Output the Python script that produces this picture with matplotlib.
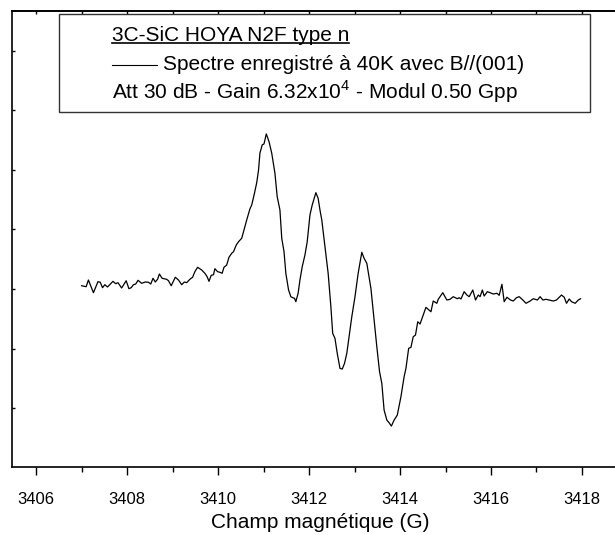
import numpy as np
import matplotlib
matplotlib.use('Agg')
import matplotlib.pyplot as plt
from matplotlib.patches import Rectangle

plt.rcParams['font.family'] = ['Liberation Sans', 'DejaVu Sans']
plt.rcParams['mathtext.fontset'] = 'custom'
plt.rcParams['mathtext.rm'] = 'Liberation Sans'

# champ (G) et signal RPE (u.a.)
field_G = [3407.00, 3407.10, 3407.15, 3407.26, 3407.36, 3407.41, 3407.46, 3407.51, 3407.57, 3407.69,
           3407.75, 3407.80, 3407.88, 3407.98, 3408.04, 3408.09, 3408.14, 3408.19, 3408.24, 3408.32,
           3408.40, 3408.47, 3408.52, 3408.57, 3408.62, 3408.67, 3408.71, 3408.77, 3408.87, 3408.91,
           3408.97, 3409.06, 3409.13, 3409.20, 3409.26, 3409.31, 3409.38, 3409.44, 3409.49, 3409.55,
           3409.64, 3409.71, 3409.76, 3409.80, 3409.85, 3409.90, 3409.93, 3409.99, 3410.04, 3410.09,
           3410.13, 3410.19, 3410.24, 3410.30, 3410.34, 3410.40, 3410.45, 3410.52, 3410.57, 3410.63,
           3410.70, 3410.74, 3410.80, 3410.85, 3410.89, 3410.92, 3410.97, 3411.01, 3411.06, 3411.12,
           3411.18, 3411.25, 3411.30, 3411.36, 3411.40, 3411.45, 3411.49, 3411.55, 3411.60, 3411.64,
           3411.68, 3411.71, 3411.76, 3411.80, 3411.85, 3411.91, 3411.96, 3412.02, 3412.07, 3412.15,
           3412.20, 3412.24, 3412.28, 3412.35, 3412.42, 3412.48, 3412.52, 3412.57, 3412.62, 3412.68,
           3412.73, 3412.78, 3412.83, 3412.89, 3412.94, 3413.01, 3413.08, 3413.16, 3413.21, 3413.27,
           3413.36, 3413.43, 3413.49, 3413.55, 3413.60, 3413.65, 3413.71, 3413.76, 3413.81, 3413.87,
           3413.94, 3414.02, 3414.09, 3414.13, 3414.19, 3414.24, 3414.29, 3414.34, 3414.39, 3414.44,
           3414.51, 3414.57, 3414.62, 3414.68, 3414.73, 3414.81, 3414.84, 3414.94, 3415.03, 3415.10,
           3415.17, 3415.26, 3415.30, 3415.34, 3415.41, 3415.47, 3415.52, 3415.60, 3415.66, 3415.72,
           3415.76, 3415.81, 3415.85, 3415.92, 3415.98, 3416.05, 3416.13, 3416.18, 3416.24, 3416.29,
           3416.35, 3416.43, 3416.49, 3416.56, 3416.62, 3416.70, 3416.77, 3416.86, 3416.93, 3417.02,
           3417.08, 3417.14, 3417.21, 3417.28, 3417.37, 3417.44, 3417.55, 3417.61, 3417.66, 3417.72,
           3417.77, 3417.85, 3417.92, 3417.97]
signal = [0.055, 0.039, 0.151, -0.062, 0.123, 0.113, 0.022, 0.072, 0.034, 0.129,
          0.089, 0.106, 0.017, 0.139, 0.005, 0.022, 0.072, 0.084, 0.146, 0.096,
          0.118, 0.113, 0.084, 0.180, 0.118, 0.163, 0.252, 0.180, 0.163, 0.139,
          0.055, 0.197, 0.151, 0.072, 0.118, 0.106, 0.163, 0.197, 0.291, 0.365,
          0.319, 0.264, 0.207, 0.129, 0.230, 0.240, 0.341, 0.291, 0.281, 0.264,
          0.365, 0.403, 0.533, 0.600, 0.627, 0.739, 0.795, 0.852, 0.992, 1.160,
          1.345, 1.412, 1.608, 1.787, 2.000, 2.281, 2.420, 2.437, 2.605, 2.476,
          2.281, 1.945, 1.551, 1.328, 0.852, 0.627, 0.264, -0.017, -0.129, -0.146,
          -0.156, -0.213, -0.072, 0.151, 0.375, 0.571, 0.795, 1.244, 1.412, 1.618,
          1.524, 1.328, 1.160, 0.711, 0.264, -0.297, -0.745, -0.829, -1.081, -1.333,
          -1.345, -1.249, -1.081, -0.745, -0.466, -0.129, 0.264, 0.617, 0.516, 0.432,
          0.012, -0.521, -0.970, -1.390, -1.585, -2.034, -2.202, -2.247, -2.303, -2.202,
          -2.118, -1.810, -1.474, -1.333, -0.997, -0.980, -0.802, -0.773, -0.550, -0.588,
          -0.437, -0.308, -0.341, -0.382, -0.202, -0.240, -0.173, -0.062, -0.185, -0.173,
          -0.129, -0.163, -0.146, -0.168, -0.045, -0.101, -0.129, -0.017, -0.185, -0.101,
          -0.129, -0.017, -0.118, -0.045, -0.062, -0.084, -0.072, -0.106, 0.079, -0.213,
          -0.139, -0.185, -0.202, -0.146, -0.129, -0.185, -0.240, -0.202, -0.163, -0.185,
          -0.129, -0.185, -0.173, -0.185, -0.202, -0.185, -0.101, -0.139, -0.240, -0.168,
          -0.213, -0.240, -0.185, -0.163]

x_major = [3406, 3408, 3410, 3412, 3414, 3416, 3418]
x_all = [3406, 3407, 3408, 3409, 3410, 3411, 3412, 3413, 3414, 3415, 3416, 3417, 3418]
y_ticks = [-2, -1, 0, 1, 2, 3, 4]

fig = plt.figure(figsize=(6.15, 5.35), dpi=100)
ax = fig.add_axes([12/615, 68/535, 605/615, 456/535])

ax.plot(field_G, signal, color='black', lw=0.9)

ax.set_xlim(3405.47, 3418.77)
ax.set_ylim(-2.99, 4.67)

ax.set_xticks(x_major)
ax.set_xticks(x_all, minor=True)
ax.tick_params(axis='x', which='major', direction='out', length=6, width=1, labelsize=12, pad=12)
ax.tick_params(axis='x', which='minor', direction='out', length=3.5, width=1)
ax.set_yticks(y_ticks)
ax.tick_params(axis='y', direction='in', length=2, width=1, labelleft=False)

top = ax.secondary_xaxis('top')
top.set_xticks(x_all)
top.tick_params(direction='in', length=2.5, width=1, labeltop=False)
top.spines['top'].set_linewidth(1.2)

for s in ax.spines.values():
    s.set_linewidth(1.2)

ax.set_xlabel('Champ magnétique (G)', fontsize=15)
ax.xaxis.label.set_va('center')
ax.xaxis.set_label_coords(0.509, -0.122)

# boîte de légende
ax.add_patch(Rectangle((0.0777, 0.7785), 0.8777, 0.2149, transform=ax.transAxes,
                       fill=False, edgecolor='#333333', lw=1))
t1 = ax.text(0.1653, 0.947, '3C-SiC HOYA N2F type n', transform=ax.transAxes,
             fontsize=15, va='center', ha='left')
ax.plot([0.1653, 0.2397], [0.8816, 0.8816], transform=ax.transAxes, color='black', lw=0.8)
ax.text(0.2496, 0.8816, 'Spectre enregistré à 40K avec B//(001)', transform=ax.transAxes,
        fontsize=15, va='center', ha='left')
ax.text(0.1653, 0.8224, 'Att 30 dB - Gain 6.32x10$^{4}$ - Modul 0.50 Gpp', transform=ax.transAxes,
        fontsize=15, va='center', ha='left')

# soulignement du titre
fig.canvas.draw()
bb = t1.get_window_extent().transformed(ax.transAxes.inverted())
ax.plot([bb.x0, bb.x1], [bb.y0 + 0.004, bb.y0 + 0.004], transform=ax.transAxes, color='black', lw=1.2)

fig.savefig('out.png', dpi=100)
